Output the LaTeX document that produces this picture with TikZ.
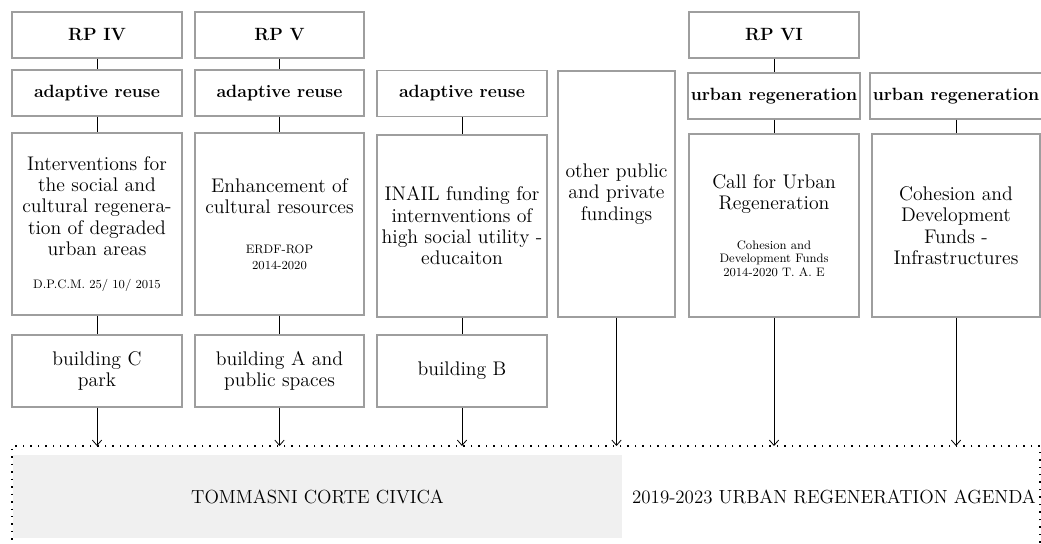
\documentclass[tikz,border=0pt]{standalone}
\usetikzlibrary{arrows.meta,positioning,calc}
\newcommand{\fnote}{\fontsize{9.2}{11}\selectfont}

\begin{document}
\begin{tikzpicture}[x=0.75pt,y=-0.75pt,
  every node/.style={font=\fontsize{14.8}{16}\selectfont},
  hdr/.style={draw=black!38,line width=0.9pt,align=center,inner sep=2pt,minimum width=127.5pt,minimum height=34.5pt,font=\fontsize{13.3}{15}\selectfont\bfseries},
  fund/.style={draw=black!38,line width=0.9pt,align=center,inner sep=2pt,minimum width=127.5pt,minimum height=136.5pt},
  site/.style={draw=black!38,line width=0.9pt,align=center,inner sep=2pt,minimum width=127.5pt,minimum height=54pt},
  frame/.style={draw=black,line width=1.1pt,dash pattern=on 1.1pt off 4.5pt,outer sep=0pt,minimum width=771pt,minimum height=85.5pt},
  civ/.style={fill=black!6,inner sep=0pt,minimum width=456.75pt,minimum height=62.25pt,font=\fontsize{14.2}{15}\selectfont},
  ln/.style={line width=0.6pt},
  ar/.style={-{Straight Barb[length=4pt,width=7pt]},line width=0.6pt}]
\useasboundingbox (0,0) rectangle (1041,543);
% funding lines
\node[hdr] (h1) at (97,35) {RP IV};
\node[hdr,minimum width=126.75pt] (h2) at (279.5,35) {RP V};
\node[hdr] (h5) at (774,35) {RP VI};
\node[hdr] (t1) at (97,93) {adaptive reuse};
\node[hdr,minimum width=126.75pt] (t2) at (279.5,93) {adaptive reuse};
\node[hdr] (t3) at (462,93.5) {adaptive reuse};
\node[hdr] (t5) at (774,96) {urban regeneration};
\node[hdr,minimum width=126pt] (t6) at (956,96) {urban regeneration};
\node[fund] (f1) at (97,224) {Interventions for\\the social and\\cultural regenera-\\tion of degraded\\urban areas\\[9pt]\fnote D.P.C.M. 25/ 10/ 2015};
\node[fund,minimum width=126.75pt] (f2) at (279.5,224) {Enhancement of\\cultural resources\\[14pt]\fnote ERDF-ROP\\[-4pt]\fnote 2014-2020};
\node[fund] (f3) at (462,226) {INAIL funding for\\internventions of\\high social utility -\\educaiton};
\node[fund,minimum width=87.75pt,minimum height=184.5pt] (f4) at (616.5,194) {other public\\and private\\fundings};
\node[fund,minimum height=137.25pt] (f5) at (774,225.5) {Call for Urban\\Regeneration\\[14pt]\fnote Cohesion and\\[-6pt]\fnote Development Funds\\[-6pt]\fnote 2014-2020 T. A. E};
\node[fund,minimum width=126pt,minimum height=137.25pt] (f6) at (956,225.5) {Cohesion and\\Development\\Funds -\\Infrastructures};
% buildings
\node[site] (s1) at (97,371) {building C\\park};
\node[site,minimum width=126.75pt] (s2) at (279.5,371) {building A and\\public spaces};
\node[site] (s3) at (462,371) {building B};
% agenda
\node[frame] (agenda) at (526,503) {};
\node[civ] (tc) at (317.5,496.5) {TOMMASNI CORTE CIVICA};
\node[font=\fontsize{14.2}{15}\selectfont] (ura) at (834,497) {2019-2023 URBAN REGENERATION AGENDA};
\draw[ln] (h1) -- (t1); \draw[ln] (t1) -- (f1); \draw[ln] (f1) -- (s1);
\draw[ln] (h2) -- (t2); \draw[ln] (t2) -- (f2); \draw[ln] (f2) -- (s2);
\draw[ln] (t3) -- (f3); \draw[ln] (f3) -- (s3);
\draw[ln] (h5) -- (t5); \draw[ln] (t5) -- (f5);
\draw[ln] (t6) -- (f6);
\draw[ar] (s1) -- (s1 |- agenda.north); \draw[ar] (s2) -- (s2 |- agenda.north);
\draw[ar] (s3) -- (s3 |- agenda.north); \draw[ar] (f4) -- (f4 |- agenda.north);
\draw[ar] (f5) -- (f5 |- agenda.north); \draw[ar] (f6) -- (f6 |- agenda.north);
\end{tikzpicture}
\end{document}
